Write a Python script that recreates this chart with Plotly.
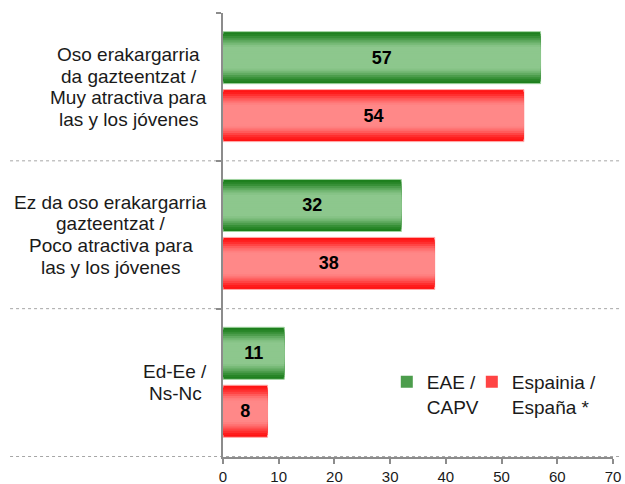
import plotly.graph_objects as go

categories = [
    "Oso erakargarria<br>da gazteentzat /<br>Muy atractiva para<br>las y los jóvenes",
    "Ez da oso erakargarria<br>gazteentzat /<br>Poco atractiva para<br>las y los jóvenes",
    "Ed-Ee /<br>Ns-Nc",
]
series_names = ["EAE /<br>CAPV", "Espainia /<br>España *"]
eae_values = [57, 32, 11]
espana_values = [54, 38, 8]
x_ticks = [0, 10, 20, 30, 40, 50, 60, 70]

series_values = [eae_values, espana_values]
edge_colors = [(28, 126, 28), (255, 18, 18)]
mid_colors = [(141, 199, 141), (255, 136, 136)]
outline_colors = ["rgb(160,212,160)", "rgb(255,170,170)"]
legend_ids = ["legend", "legend2"]
legend_x = [0.42, 0.638]

FONT = "Liberation Sans, Arial, sans-serif"
BAR_W = 0.352
starts = [-0.374, 0.018]
K = 12
LABEL_SIZE = 19
LINE_SPACING = 21.7
LABEL_GAP = 16

# Arial / Liberation Sans advance widths (per 1000 em)
ARIAL_W = {
    " ": 278, "/": 278, "-": 333, "*": 389,
    "A": 667, "C": 722, "E": 667, "M": 833, "N": 722, "O": 778, "P": 667, "V": 667,
    "a": 556, "c": 500, "d": 556, "e": 556, "g": 556, "i": 222, "j": 222, "k": 500,
    "l": 222, "n": 556, "o": 556, "p": 556, "r": 333, "s": 500, "t": 278, "u": 556,
    "v": 500, "y": 500, "z": 500, "ó": 556, "ñ": 556,
}


def text_width(s, size):
    return sum(ARIAL_W.get(ch, 556) for ch in s) * size / 1000.0


def mix(c1, c2, f):
    return "rgb(%d,%d,%d)" % tuple(round(a + (b - a) * f) for a, b in zip(c1, c2))


fig = go.Figure()

for s in range(2):
    for k in range(K):
        t = (k + 0.5) / K
        f = min(1.0, t / 0.65)
        f = f * f * (3 - 2 * f)
        fig.add_trace(go.Bar(
            x=series_values[s],
            y=categories,
            orientation="h",
            offset=starts[s] + BAR_W * k / (2 * K),
            width=BAR_W * (1 - k / K),
            marker=dict(
                color=mix(edge_colors[s], mid_colors[s], f),
                line=dict(width=1 if k == 0 else 0, color=outline_colors[s]),
            ),
            name=series_names[s],
            showlegend=(k == 3),
            legend=legend_ids[s],
            legendgroup=str(s),
            hoverinfo="skip",
        ))
    fig.add_trace(go.Bar(
        x=series_values[s],
        y=categories,
        orientation="h",
        offset=starts[s],
        width=BAR_W,
        marker=dict(color="rgba(0,0,0,0)", line=dict(width=0)),
        text=[str(v) for v in series_values[s]],
        textposition="inside",
        insidetextanchor="middle",
        textangle=0,
        textfont=dict(family=FONT, size=18, color="black", weight="bold"),
        showlegend=False,
        hoverinfo="skip",
    ))

for c in categories:
    lines = c.split("<br>")
    maxw = max(text_width(l, LABEL_SIZE) for l in lines)
    n = len(lines)
    for i, line in enumerate(lines):
        fig.add_annotation(
            x=0, xref="paper", xshift=-(LABEL_GAP + maxw / 2), xanchor="center",
            y=c, yref="y", yanchor="middle",
            yshift=((n - 1) / 2 - i) * LINE_SPACING,
            text=line, showarrow=False, align="center",
            font=dict(family=FONT, size=LABEL_SIZE, color="#1a1a1a"),
        )

for i in range(len(categories)):
    fig.add_shape(
        type="line", xref="paper", yref="y",
        x0=-0.546, x1=1.018, y0=i + 0.5, y1=i + 0.5,
        line=dict(color="#a6a6a6", width=1, dash="dot"),
        layer="below",
    )

legend_style = dict(
    xanchor="left", y=0.212, yanchor="top", valign="top",
    bgcolor="rgba(0,0,0,0)", font=dict(size=19, color="#1a1a1a"),
)

fig.update_layout(
    width=625, height=484,
    margin=dict(l=223, r=12, t=13, b=27, autoexpand=False),
    paper_bgcolor="white", plot_bgcolor="white",
    barmode="overlay",
    font=dict(family=FONT, color="#1a1a1a"),
    xaxis=dict(
        range=[0, 70], tickvals=x_ticks, ticks="outside", ticklen=5,
        tickcolor="#8c8c8c", tickwidth=1.5,
        showline=True, linecolor="#8c8c8c", linewidth=1.5,
        showgrid=False, zeroline=False, automargin=False,
        tickfont=dict(size=15, color="#1a1a1a"),
    ),
    yaxis=dict(
        type="category", categoryorder="array", categoryarray=categories,
        autorange="reversed", showticklabels=False,
        tickson="boundaries", ticks="outside", ticklen=5,
        tickcolor="#8c8c8c", tickwidth=1.5,
        showline=True, linecolor="#8c8c8c", linewidth=2,
        showgrid=False, zeroline=False, automargin=False,
    ),
    legend=dict(x=legend_x[0], **legend_style),
    legend2=dict(x=legend_x[1], **legend_style),
    showlegend=True,
)

fig.write_html(
    "out.html",
    config={"displayModeBar": False},
    post_script="document.body.style.margin='0px';",
)
